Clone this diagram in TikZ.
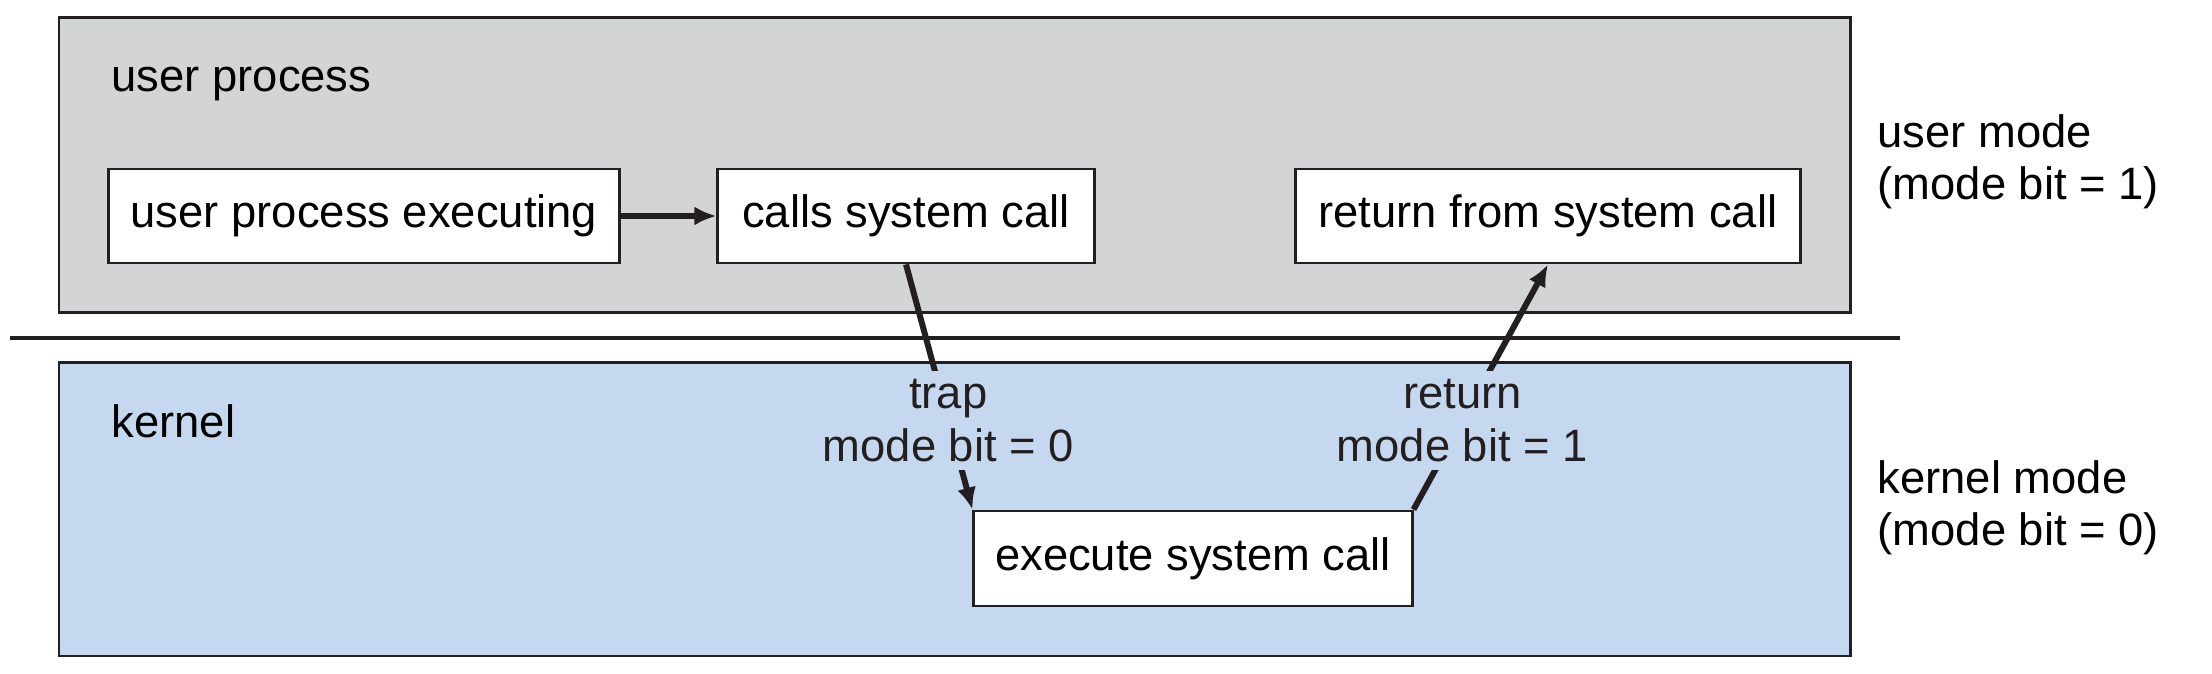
\documentclass[tikz,border=0pt]{standalone}
\usepackage{fontspec}
\setmainfont{Liberation Sans}
\usetikzlibrary{arrows.meta}
\definecolor{colorusr}{HTML}{D3D4D6}
\definecolor{colorknl}{HTML}{C6D8EF}
\definecolor{colorln}{HTML}{231F20}
\tikzset{region/.style={draw=colorln, line width=0.85pt}}
\tikzset{procbox/.style={draw=colorln, fill=white, line width=0.8pt, minimum height=0.94cm, inner sep=0pt}}
\tikzset{modelbl/.style={fill=colorknl, align=center, inner xsep=2pt, inner ysep=0.09cm}}
\tikzset{plain/.style={anchor=base west, inner sep=0pt}}
\tikzset{
  edgecall/.style={colorln, line width=1.7pt, -{Latex[length=2.2mm, width=1.9mm]}},
  sepline/.style={colorln, line width=1.3pt}
}

\begin{document}
\begin{tikzpicture}[x=0.01cm, y=-0.01cm, font=\fontsize{12.9}{14.8}\selectfont]
\useasboundingbox (0,0) rectangle (2212,674);

\draw[region, fill=colorusr] (59,18) rectangle (1850,313);
\draw[region, fill=colorknl] (59,363) rectangle (1850,656);
\draw[sepline] (10,338) -- (1900,338);

\node[plain] (utitle) at (111,92) {user process};
\node[plain] (ktitle) at (111,438) {kernel};
% base anchor sits on the last line
\node[plain, align=left] (umode) at (1877,200) {user mode\\(mode bit = 1)};
\node[plain, align=left] (kmode) at (1877,546) {kernel mode\\(mode bit = 0)};

\node[procbox, minimum width=5.1cm] (uexec) at (364,216) {user process executing};
\node[procbox, minimum width=3.76cm] (calls) at (906,216) {calls system call};
\node[procbox, minimum width=5.04cm] (ret) at (1548,216) {return from system call};
\node[procbox, minimum width=4.38cm, minimum height=0.95cm] (exec) at (1193,558.5)
{execute system call};

\draw[edgecall] (uexec) -- (calls);

\draw[edgecall] (calls.south) -- node[modelbl, pos=0.637]
{trap\\mode bit = 0} (exec.north west);

\draw[edgecall] (exec.north east) -- node[modelbl, pos=0.363]
{return\\mode bit = 1} (ret.south);
\end{tikzpicture}
\end{document}
